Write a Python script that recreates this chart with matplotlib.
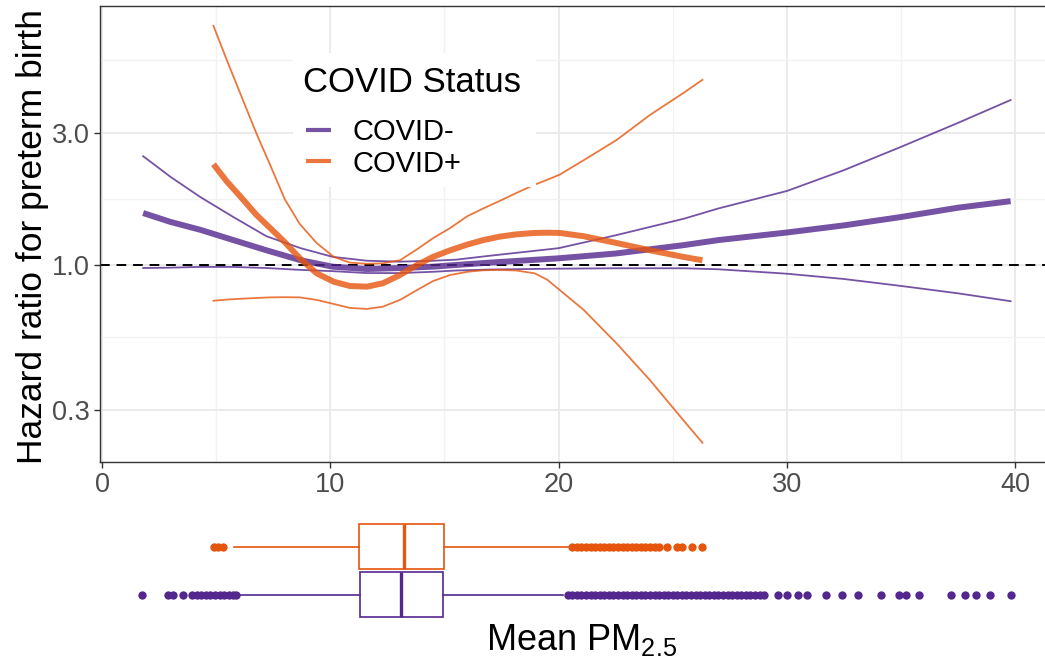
import matplotlib.pyplot as plt
from matplotlib.lines import Line2D
from matplotlib.patches import Rectangle
from matplotlib.ticker import FixedLocator, FixedFormatter, NullFormatter

plt.rcParams["font.family"] = ["Liberation Sans", "DejaVu Sans"]
plt.rcParams["mathtext.fontset"] = "custom"
plt.rcParams["mathtext.rm"] = "Liberation Sans"

PURPLE = "#54278F"
ORANGE = "#E6550D"

# COVID- spline (hazard ratio)
neg_x = [1.8, 3, 4.3, 5.75, 7.2, 8.7, 10.1, 11.6, 13.05, 14.5, 15.5, 17, 20, 22.5, 25.5,
         27, 30, 32.5, 35, 37.5, 39.8]
neg_hr = [1.54, 1.43, 1.34, 1.23, 1.13, 1.04, 0.986, 0.967, 0.975, 0.986, 1.0, 1.02, 1.057,
          1.10, 1.18, 1.23, 1.31, 1.39, 1.49, 1.61, 1.70]
neg_hi = [2.47, 2.08, 1.76, 1.49, 1.27, 1.15, 1.07, 1.036, 1.028, 1.036, 1.045, 1.08, 1.15,
          1.28, 1.47, 1.60, 1.85, 2.20, 2.67, 3.26, 3.94]
neg_lo = [0.975, 0.978, 0.984, 0.984, 0.975, 0.96, 0.95, 0.935, 0.935, 0.945, 0.955, 0.963,
          0.97, 0.973, 0.973, 0.965, 0.93, 0.89, 0.84, 0.79, 0.74]

# COVID+ spline
pos_x = [4.88, 5.47, 6.05, 6.75, 7.4, 8.0, 8.65, 9.4, 10.15, 10.85, 11.6, 12.3, 13.05,
         13.8, 14.5, 15.25, 16.0, 16.7, 17.4, 18.15, 18.95, 19.5, 20.05, 21.1, 22.55, 24.0,
         25.45, 26.3]
pos_hr = [2.31, 2.0, 1.77, 1.52, 1.35, 1.21, 1.06, 0.933, 0.87, 0.84, 0.835, 0.859, 0.92,
          1.0, 1.07, 1.13, 1.185, 1.23, 1.265, 1.29, 1.305, 1.308, 1.305, 1.27, 1.20, 1.13,
          1.07, 1.04]
pos_hi = [7.3, 5.48, 4.17, 3.0, 2.26, 1.73, 1.41, 1.20, 1.07, 1.02, 1.01, 1.014, 1.04,
          1.14, 1.25, 1.36, 1.50, 1.60, 1.70, 1.82, 1.95, 2.03, 2.12, 2.39, 2.83, 3.48,
          4.17, 4.66]
pos_lo = [0.743, 0.75, 0.755, 0.76, 0.764, 0.765, 0.764, 0.748, 0.723, 0.70, 0.694, 0.707,
          0.748, 0.812, 0.875, 0.92, 0.945, 0.957, 0.96, 0.955, 0.933, 0.885, 0.812, 0.688,
          0.52, 0.384, 0.276, 0.228]

# boxplot summaries of mean PM2.5
neg_box = dict(q1=11.3, med=13.1, q3=14.94, whislo=6.0, whishi=20.2)
pos_box = dict(q1=11.26, med=13.23, q3=14.98, whislo=5.78, whishi=20.4)
neg_out = [1.75, 2.9, 3.1, 3.55, 3.95, 4.15, 4.35, 4.55, 4.75, 4.95, 5.15, 5.35, 5.55, 5.75,
           5.85,
           20.4, 20.6, 20.8, 21.0, 21.2, 21.4, 21.6, 21.8, 22.0, 22.2, 22.4, 22.6, 22.8,
           23.0, 23.2, 23.4, 23.6, 23.8, 24.0, 24.2, 24.4, 24.6, 24.8, 25.0, 25.2, 25.4,
           25.6, 25.8, 26.0, 26.2, 26.4, 26.6, 26.8, 27.0, 27.2, 27.4, 27.6, 27.8, 28.0,
           28.2, 28.4, 28.6, 28.8, 29.0, 29.6, 30.0, 30.5, 30.9, 31.7, 32.4, 33.1, 34.1,
           34.9, 35.2, 35.8, 37.2, 37.8, 38.3, 38.9, 39.8]
pos_out = [4.9, 5.1, 5.3,
           20.6, 20.8, 21.0, 21.2, 21.4, 21.6, 21.8, 22.0, 22.2, 22.4, 22.6, 22.8, 23.0,
           23.2, 23.4, 23.6, 23.8, 24.0, 24.2, 24.4, 24.75, 25.2, 25.4, 25.85, 26.3]

W, H = 1045, 667


def px_rect(l, t, r, b):
    return [l / W, 1 - b / H, (r - l) / W, (b - t) / H]


fig = plt.figure(figsize=(W / 100, H / 100), dpi=100)

# ---- top panel: hazard ratio curves
ax = fig.add_axes(px_rect(100, 6, 1054, 462))
ax.set_yscale("log")
ax.set_xlim(-0.09, 41.7)
ax.set_ylim(0.1944, 8.61)

ax.xaxis.set_major_locator(FixedLocator([0, 10, 20, 30, 40]))
ax.xaxis.set_minor_locator(FixedLocator([5, 15, 25, 35]))
ax.yaxis.set_major_locator(FixedLocator([0.3, 1.0, 3.0]))
ax.yaxis.set_major_formatter(FixedFormatter(["0.3", "1.0", "3.0"]))
ax.yaxis.set_minor_locator(FixedLocator([0.548, 1.732, 5.48]))
ax.yaxis.set_minor_formatter(NullFormatter())
ax.grid(True, which="major", color="#EBEBEB", lw=1.4)
ax.grid(True, which="minor", color="#F2F2F2", lw=1.0)
ax.set_axisbelow(True)
ax.tick_params(which="major", length=4.3, width=1, color="#333333",
               labelcolor="#4D4D4D", labelsize=19.5, pad=3)
ax.tick_params(which="minor", length=0)
for s in ax.spines.values():
    s.set_color("#333333")
    s.set_linewidth(1.0)

ax.axhline(1.0, color="black", lw=1.4, dashes=(5, 3.5), zorder=1)

for xs, hr, lo, hi, col in [(neg_x, neg_hr, neg_lo, neg_hi, PURPLE),
                             (pos_x, pos_hr, pos_lo, pos_hi, ORANGE)]:
    ax.plot(xs, hi, color=col, alpha=0.8, lw=1.3, zorder=2)
    ax.plot(xs, lo, color=col, alpha=0.8, lw=1.3, zorder=2)
    ax.plot(xs, hr, color=col, alpha=0.8, lw=4.3, zorder=3, solid_capstyle="butt")


# legend drawn by hand (pixel positions of the reference)
def ax_pt(px, py):
    return ((px - 100) / 954, (462 - py) / 456)


lx0, ly0 = ax_pt(293, 187)
lx1, ly1 = ax_pt(536, 53)
ax.add_patch(Rectangle((lx0, ly0), lx1 - lx0, ly1 - ly0, transform=ax.transAxes,
                       facecolor="white", edgecolor="none", zorder=5))
ax.text(*ax_pt(303, 92.5), "COVID Status", transform=ax.transAxes, fontsize=25,
        ha="left", va="baseline", zorder=6)
for row_y, lab, col in [(130, "COVID-", PURPLE), (161, "COVID+", ORANGE)]:
    (k0, ky), (k1, _) = ax_pt(306, row_y), ax_pt(331, row_y)
    ax.add_line(Line2D([k0, k1], [ky, ky], transform=ax.transAxes, color=col,
                       alpha=0.8, lw=3, zorder=6, solid_capstyle="butt"))
    ax.text(*ax_pt(352, row_y + 10.5), lab, transform=ax.transAxes, fontsize=21,
            ha="left", va="baseline", zorder=6)

fig.text(33 / W, 1 - 237 / H, "Hazard ratio for preterm birth", rotation=90,
         ha="center", va="center", fontsize=25.5)

# ---- bottom panel: distribution of exposure
ax2 = fig.add_axes(px_rect(100, 517.7, 1054, 623.3))
ax2.set_xlim(-0.09, 41.7)
ax2.set_ylim(0.4, 2.6)
ax2.axis("off")

for pos, box, out, col in [(1, neg_box, neg_out, PURPLE), (2, pos_box, pos_out, ORANGE)]:
    st = dict(box, fliers=out)
    ax2.bxp([st], positions=[pos], widths=0.92, orientation="horizontal",
            showcaps=False, patch_artist=True,
            boxprops=dict(facecolor="white", edgecolor=col, lw=1.2),
            whiskerprops=dict(color=col, lw=1.2),
            medianprops=dict(color=col, lw=2.4),
            flierprops=dict(marker="o", markersize=6, markerfacecolor=col,
                            markeredgecolor="none"))

fig.text(581 / W, 1 - 640 / H, "Mean PM$_{\\mathregular{2.5}}$", ha="center",
         va="center", fontsize=26)

fig.savefig("out.png", dpi=100)
